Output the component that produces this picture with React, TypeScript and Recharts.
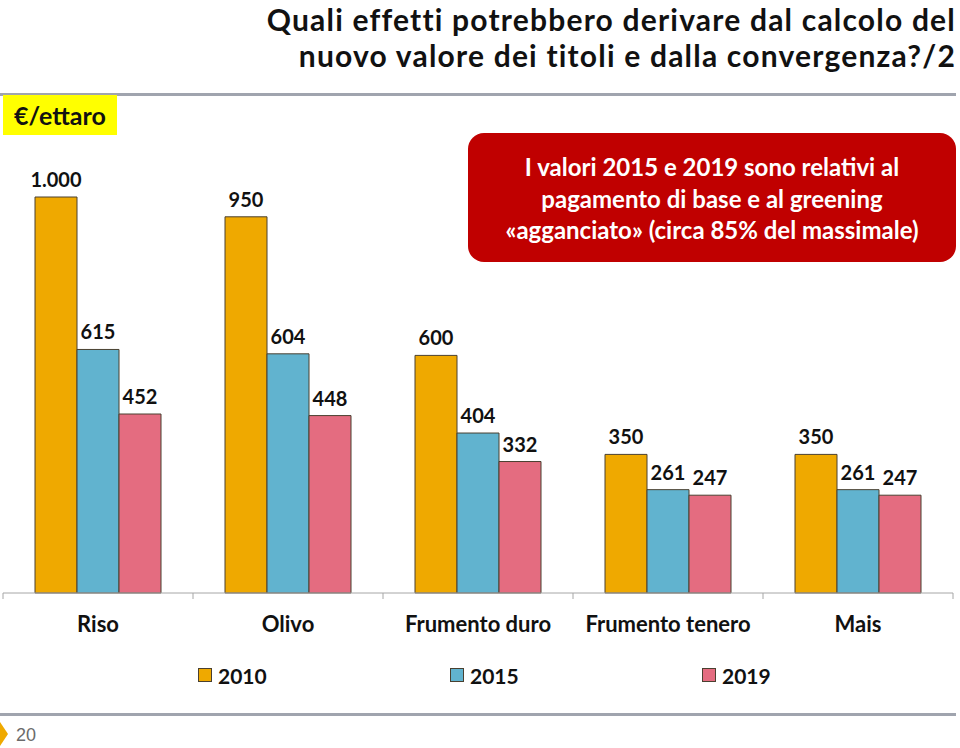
import { BarChart, Bar, XAxis, YAxis, LabelList } from "recharts"

const categorie = ["Riso", "Olivo", "Frumento duro", "Frumento tenero", "Mais"]
const valori2010 = [1000, 950, 600, 350, 350]
const valori2015 = [615, 604, 404, 261, 261]
const valori2019 = [452, 448, 332, 247, 247]
const anni = ["2010", "2015", "2019"]
const colori = ["#efa900", "#61b3cf", "#e46c80"]

const titolo = [
  "Quali effetti potrebbero derivare dal calcolo del",
  "nuovo valore dei titoli e dalla convergenza?/2",
]
const nota = [
  "I valori 2015 e 2019 sono relativi al",
  "pagamento di base e al greening",
  "«agganciato» (circa 85% del massimale)",
]

const data = categorie.map((c, i) => ({
  nome: c,
  v2010: valori2010[i],
  v2015: valori2015[i],
  v2019: valori2019[i],
}))

const FONT = "Lato, 'Open Sans', sans-serif"

// 1000 -> "1.000"
const fmt = (v: any) => String(v).replace(/\B(?=(\d{3})+(?!\d))/g, ".")

// eslint-disable-next-line @typescript-eslint/no-explicit-any
function CatTick(props: any) {
  const { x, y, payload, index, visibleTicksCount, width } = props
  let half = payload?.offset
  if (!half) half = width && visibleTicksCount ? width / visibleTicksCount / 2 : 95
  return (
    <g>
      <line x1={x - half} x2={x - half} y1={y} y2={y + 6} stroke="#a6a6a6" />
      {index === visibleTicksCount - 1 && (
        <line x1={x + half} x2={x + half} y1={y} y2={y + 6} stroke="#a6a6a6" />
      )}
      <text x={x} y={y + 39} textAnchor="middle" fontSize={22} fontWeight={700} fill="#111" fontFamily={FONT}>
        {payload.value}
      </text>
    </g>
  )
}

export default function App() {
  const labelProps = { position: "top" as const, offset: 10, formatter: fmt, fill: "#111", fontSize: 20, fontWeight: 700, fontFamily: FONT }
  return (
    <div style={{ position: "absolute", left: 0, top: 0, width: 960, height: 748, background: "#fff", overflow: "hidden", fontFamily: FONT }}>
      {/* titolo */}
      <div style={{ position: "absolute", right: 4, top: 1, textAlign: "right", fontWeight: 700, fontSize: 30, lineHeight: "36px", letterSpacing: 1.2, color: "#111" }}>
        {titolo.map((t) => (
          <div key={t}>{t}</div>
        ))}
      </div>
      <div style={{ position: "absolute", left: 0, top: 93, width: 956, height: 3, background: "#a0a4ae" }} />
      <div style={{ position: "absolute", left: 3, top: 95, width: 114, height: 40, background: "#ffff00", fontWeight: 700, fontSize: 25, lineHeight: "40px", textAlign: "center", color: "#111" }}>
        €/ettaro
      </div>

      {/* nota in rosso */}
      <div style={{ position: "absolute", left: 468, top: 133, width: 488, height: 129, background: "#c00000", borderRadius: 16, color: "#fff", fontWeight: 700, fontSize: 24, lineHeight: "31.5px", textAlign: "center", boxSizing: "border-box", paddingTop: 18 }}>
        {nota.map((t) => (
          <div key={t}>{t}</div>
        ))}
      </div>

      <div style={{ position: "absolute", left: 0, top: 0 }}>
        <BarChart width={960} height={748} data={data} margin={{ top: 197, right: 7, bottom: 95, left: 3 }} barCategoryGap={32} barGap={0}>
          <XAxis dataKey="nome" height={60} axisLine={{ stroke: "#a6a6a6" }} tickLine={false} tickSize={0} tickMargin={0} tick={<CatTick />} interval={0} />
          <YAxis hide domain={[0, 1000]} />
          <Bar dataKey="v2010" fill={colori[0]} stroke="#4a4030" strokeWidth={1} isAnimationActive={false}>
            <LabelList dataKey="v2010" {...labelProps} />
          </Bar>
          <Bar dataKey="v2015" fill={colori[1]} stroke="#4a4030" strokeWidth={1} isAnimationActive={false}>
            <LabelList dataKey="v2015" {...labelProps} />
          </Bar>
          <Bar dataKey="v2019" fill={colori[2]} stroke="#4a4030" strokeWidth={1} isAnimationActive={false}>
            <LabelList dataKey="v2019" {...labelProps} />
          </Bar>
        </BarChart>
      </div>

      {/* legenda */}
      {anni.map((a, i) => (
        <div key={a} style={{ position: "absolute", left: 198 + i * 252, top: 662, height: 26, display: "flex", alignItems: "center", fontWeight: 700, fontSize: 21, color: "#111" }}>
          <span style={{ display: "inline-block", width: 12, height: 12, background: colori[i], border: "1px solid #4a4030", marginRight: 6 }} />
          {a}
        </div>
      ))}

      {/* pie di pagina */}
      <div style={{ position: "absolute", left: 0, top: 713, width: 956, height: 3, background: "#a0a4ae" }} />
      <svg style={{ position: "absolute", left: 0, top: 722 }} width={10} height={26}>
        <polygon points="0,0 8,12 0,24" fill="#efa900" />
      </svg>
      <div style={{ position: "absolute", left: 16, top: 725, fontFamily: "'Liberation Sans Narrow', sans-serif", fontSize: 18, color: "#6b6b6b" }}>
        20
      </div>
    </div>
  )
}
